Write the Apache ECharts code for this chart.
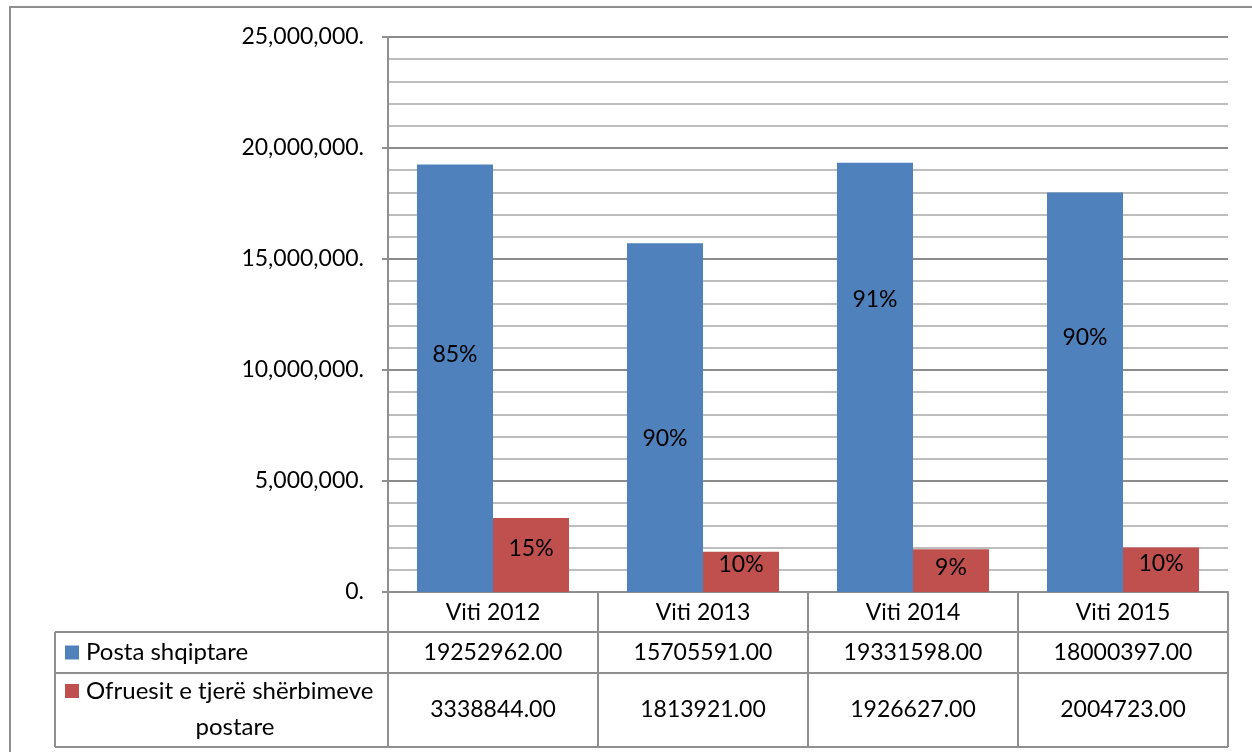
<!DOCTYPE html>
<html>
<head>
<meta charset="utf-8">
<script src="https://cdn.jsdelivr.net/npm/echarts@6/dist/echarts.min.js"></script>
<style>
  html, body { margin: 0; background: #fff; }
  #chart { width: 1252px; height: 752px; }
</style>
</head>
<body>
<div id="chart"></div>
<script>
// te dhenat
const years = ['Viti 2012', 'Viti 2013', 'Viti 2014', 'Viti 2015']
const postaName = 'Posta shqiptare'
const ofruesName = 'Ofruesit e tjerë shërbimeve postare'
const posta = [19252962, 15705591, 19331598, 18000397]
const ofruesit = [3338844, 1813921, 1926627, 2004723]

// zhvendosje vertikale e etiketave (px), si ne origjinal
const postaLabelShift = [-24, 21, -78, -55]
const ofruesLabelShift = [-6, -7, -3, -6]

const FONT = 'Lato'
const FS = 23
const BLUE = '#4f81bd'
const RED = '#c0504d'
const LINE = '#8f8f8f'

const pct = (a, b) => Math.round(a / (a + b) * 100) + '%'

const myChart = echarts.init(document.getElementById('chart'))

const option = {
  animation: false,
  textStyle: { fontFamily: FONT },
  grid: { left: 388, right: 24, top: 37, bottom: 160 },
  xAxis: {
    type: 'category',
    data: years,
    axisTick: { show: false },
    axisLine: { lineStyle: { color: LINE, width: 2 } },
    axisLabel: { color: '#000', fontSize: FS, fontFamily: FONT, margin: 9 }
  },
  yAxis: {
    type: 'value',
    min: 0,
    max: 25000000,
    interval: 5000000,
    axisLine: { show: true, lineStyle: { color: LINE, width: 2 } },
    axisTick: { show: true, length: 6, lineStyle: { color: LINE, width: 2 } },
    axisLabel: {
      color: '#000',
      fontSize: FS,
      fontFamily: FONT,
      margin: 24,
      formatter: v => v.toLocaleString('en-US') + '.'
    },
    splitLine: { lineStyle: { color: '#8c8c8c', width: 2 } },
    minorTick: { show: false, splitNumber: 5 },
    minorSplitLine: { show: true, lineStyle: { color: '#bdbdbd', width: 2 } }
  },
  series: [
    {
      name: postaName,
      type: 'bar',
      barGap: '0%',
      barCategoryGap: '27.6%',
      itemStyle: { color: BLUE },
      data: posta.map((v, i) => ({
        value: v,
        label: { offset: [0, postaLabelShift[i]] }
      })),
      label: {
        show: true,
        position: 'inside',
        color: '#000',
        fontSize: FS,
        fontFamily: FONT,
        formatter: p => pct(posta[p.dataIndex], ofruesit[p.dataIndex])
      }
    },
    {
      name: ofruesName,
      type: 'bar',
      itemStyle: { color: RED },
      data: ofruesit.map((v, i) => ({
        value: v,
        label: { offset: [0, ofruesLabelShift[i]] }
      })),
      label: {
        show: true,
        position: 'inside',
        color: '#000',
        fontSize: FS,
        fontFamily: FONT,
        formatter: p => pct(ofruesit[p.dataIndex], posta[p.dataIndex])
      }
    }
  ]
}

myChart.setOption(option)

// tabela e te dhenave poshte grafikut
const y0 = myChart.convertToPixel({ yAxisIndex: 0 }, 0)
const centers = years.map((y, i) => myChart.convertToPixel({ xAxisIndex: 0 }, i))
const half = (centers[1] - centers[0]) / 2
const xStart = centers[0] - half
const xEnd = centers[centers.length - 1] + half
const legendLeft = 55
const r1 = y0 + 40
const r2 = r1 + 41
const r3 = r2 + 74

const lines = []
const hLine = (x1, x2, y) => lines.push({
  type: 'line', shape: { x1, y1: y, x2, y2: y },
  style: { stroke: LINE, lineWidth: 2 }, z: 10
})
const vLine = (x, y1, y2) => lines.push({
  type: 'line', shape: { x1: x, y1, x2: x, y2 },
  style: { stroke: LINE, lineWidth: 2 }, z: 10
})
hLine(legendLeft, xEnd, r1)
hLine(legendLeft, xEnd, r2)
hLine(legendLeft, xEnd, r3)
vLine(legendLeft, r1, r3)
vLine(xStart, y0, r3)
centers.forEach(c => vLine(c + half, y0, r3))

const cellText = (x, y, text, align, size) => ({
  type: 'text', x, y, z: 10,
  style: { text, fill: '#000', font: (size || FS) + 'px ' + FONT, align: align || 'center', verticalAlign: 'middle' }
})

const texts = []
centers.forEach((c, i) => {
  texts.push(cellText(c, (r1 + r2) / 2, posta[i].toFixed(2)))
  texts.push(cellText(c, (r2 + r3) / 2, ofruesit[i].toFixed(2)))
})

const legendCells = [
  { type: 'rect', shape: { x: 65, y: (r1 + r2) / 2 - 7, width: 14, height: 14 }, style: { fill: BLUE }, z: 10 },
  cellText(86, (r1 + r2) / 2, postaName, 'left', 24),
  { type: 'rect', shape: { x: 65, y: r2 + 11, width: 14, height: 14 }, style: { fill: RED }, z: 10 },
  cellText(86, r2 + 18, 'Ofruesit e tjerë shërbimeve', 'left', 24),
  cellText((86 + xStart) / 2 - 2, r2 + 54, 'postare', 'center', 24)
]

const frame = {
  type: 'rect', shape: { x: 10, y: 7, width: 1400, height: 900 },
  style: { fill: 'none', stroke: LINE, lineWidth: 2 }, z: 1
}

myChart.setOption({ graphic: [frame].concat(lines, texts, legendCells) })
</script>
</body>
</html>
